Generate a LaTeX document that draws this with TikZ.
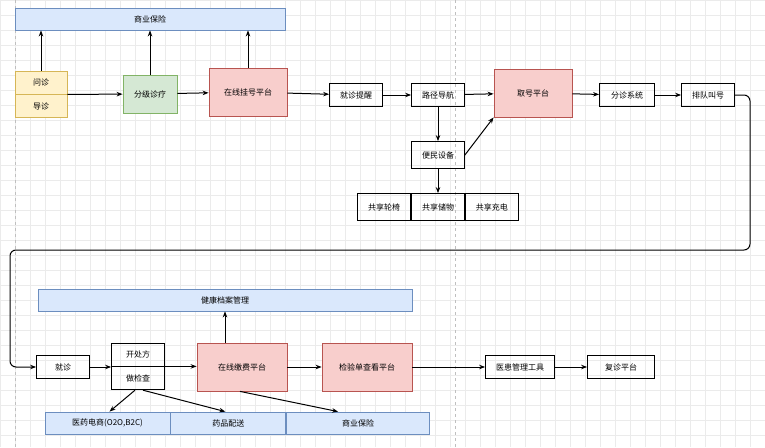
\documentclass[tikz,border=0pt]{standalone}
\usepackage{fontspec}
\setmainfont{Noto Sans CJK SC}
\usetikzlibrary{positioning, arrows.meta}
\definecolor{bluefill}{HTML}{DAE8FC}
\definecolor{blueline}{HTML}{6C8EBF}
\definecolor{yellowfill}{HTML}{FFF2CC}
\definecolor{yellowline}{HTML}{D6B656}
\definecolor{greenfill}{HTML}{D5E8D4}
\definecolor{greenline}{HTML}{82B366}
\definecolor{redfill}{HTML}{F8CECC}
\definecolor{redline}{HTML}{B85450}

\begin{document}
\begin{tikzpicture}[x=1pt, y=-1pt, font=\fontsize{8}{9}\selectfont,
    box/.style={draw, thick, minimum width=#1, minimum height=23pt, inner sep=0pt},
    box/.default=53pt,
    blue/.style={draw=blueline, fill=bluefill, thick, minimum height=22pt, inner sep=0pt},
    red/.style={draw=redline, fill=redfill, thick, minimum height=48pt, inner sep=0pt},
    flow/.style={-{Stealth[length=6pt]}, semithick, line width=1pt}]
  \useasboundingbox (0,0) rectangle (765,447);
  \draw[black!8] (0,0) grid[step=15pt] (765,447);
  \draw[black!25, dashed] (15,0) -- (15,447) (455,0) -- (455,447);

  % FIRST ROW

  \node[blue, minimum width=270pt] (insurtop) at (150,19) {商业保险};
  \node[box=52pt, draw=yellowline, fill=yellowfill] (wenzhen) at (41,82.5) {问诊};
  \node[box=52pt, draw=yellowline, fill=yellowfill, below=0pt of wenzhen] (daozhen) {导诊};
  \node[box=54pt, minimum height=38pt, draw=greenline, fill=greenfill] (fenji) at (150,94) {分级诊疗};
  \node[red, minimum width=78pt] (guahao) at (248,92) {在线挂号平台};
  \node[box] (tixing) at (356,95) {就诊提醒};
  \node[box] (daohang) at (438,95) {路径导航};
  \node[red, minimum width=78pt] (quhao) at (533,93) {取号平台};
  \node[box=55pt] (fenzhen) at (627,95) {分诊系统};
  \node[box] (paidui) at (708,95) {排队叫号};
  \node[box, minimum height=27pt] (bianmin) at (438,155) {便民设备};
  \node[box, minimum height=27pt] (chuwu) at (438,207) {共享储物};
  \node[box, minimum height=27pt, left=0pt of chuwu] (lunyi) {共享轮椅};
  \node[box, minimum height=27pt, right=0pt of chuwu] (chongdian) {共享充电};

  \draw[flow] (wenzhen.north) -- (insurtop.south -| wenzhen.north);
  \draw[flow] (fenji) -- (insurtop);
  \draw[flow] (guahao.north) -- (insurtop.south -| guahao.north);
  \draw[flow] (wenzhen.south east) -- (fenji);
  \draw[flow] (fenji) -- (guahao);
  \draw[flow] (guahao) -- (tixing);
  \draw[flow] (tixing) -- (daohang);
  \draw[flow] (daohang) -- (quhao);
  \draw[flow] (quhao) -- (fenzhen);
  \draw[flow] (fenzhen) -- (paidui);
  \draw[flow] (daohang) -- (bianmin);
  \draw[flow] (bianmin.east) -- (quhao.south west);
  \draw[flow] (bianmin) -- (chuwu);

  % SECOND ROW

  \node[blue, minimum width=374pt] (dangan) at (225,300) {健康档案管理};
  \node[box] (jiuzhen) at (63,367) {就诊};
  \node[box] (chufang) at (138,354.5) {开处方};
  \node[box, below=0pt of chufang] (jiancha) {做检查};
  \node[red, minimum width=90pt] (jiaofei) at (242,367) {在线缴费平台};
  \node[red, minimum width=90pt] (jianyan) at (367,367) {检验单查看平台};
  \node[box=69pt] (yihuan) at (520,367) {医患管理工具};
  \node[box=67pt] (fuzhen) at (621,367) {复诊平台};
  \node[blue, minimum width=125pt] (dianshang) at (107.5,423) {医药电商(O2O,B2C)};
  \node[blue, minimum width=115pt, right=0pt of dianshang] (peisong) {药品配送};
  \node[blue, minimum width=143pt, right=0pt of peisong] (insurbot) {商业保险};

  \draw[flow, rounded corners=6pt] (paidui.east) -- (750,95) -- (750,250)
    -- (10,250) -- (10,367) -- (jiuzhen.west);
  \draw[flow] (jiuzhen) -- (jiuzhen -| chufang.west);
  \draw[flow] (chufang.south east) -- (chufang.south east -| jiaofei.west);
  \draw[flow] (jiaofei.north -| dangan) -- (dangan.south);
  \draw[flow] (jiaofei) -- (jianyan);
  \draw[flow] (jianyan) -- (yihuan);
  \draw[flow] (yihuan) -- (fuzhen);
  \draw[flow] ([xshift=-3pt]jiancha.south) -- ([xshift=2pt]dianshang.north);
  \draw[flow] ([xshift=5pt]jiancha.south) -- ([xshift=-3pt]peisong.north);
  \draw[flow] ([xshift=-2pt]jiaofei.south) -- ([xshift=-20pt]insurbot.north);
\end{tikzpicture}
\end{document}
